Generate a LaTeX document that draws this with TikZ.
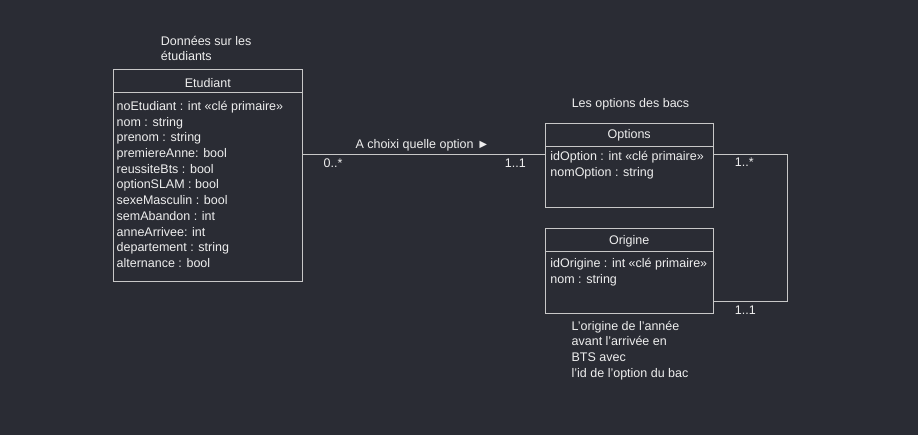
\documentclass[tikz,border=0pt]{standalone}
\usepackage{fontspec}
\setmainfont{Liberation Sans}
\usepackage{xcolor}
\usepackage{tikz}
\usetikzlibrary{positioning}

\definecolor{fondsombre}{RGB}{42,44,52}
\definecolor{traitgris}{RGB}{200,200,200}
\definecolor{texteclair}{RGB}{238,238,238}

\tikzset{
  every node/.style={text=texteclair,font=\fontsize{12.5}{15.7}\selectfont,inner sep=0.75pt},
  classe/.style={draw=traitgris,line width=1,rectangle,inner sep=0pt,anchor=north west},
  trait/.style={draw=traitgris,line width=1}
}

\begin{document}
\begin{tikzpicture}[x=1pt,y=1pt,yscale=-1,xscale=1]
%set diagram left start at 0, and has height of 435
\fill[fondsombre] (0,0) rectangle (918,435);
\useasboundingbox (0,0) rectangle (918,435);

%Shape: Rectangle [Etudiant]
\node (etud) [classe,minimum width=189pt,minimum height=211.7pt] at (113.3,69.3) {};
%Shape: Rectangle [Options]
\node (opt) [classe,minimum width=168.3pt,minimum height=84pt] at (545,122.7) {};
%Shape: Rectangle [Origine]
\node (ori) [classe,minimum width=168.3pt,minimum height=85pt] at (545,227.7) {};

\coordinate (etudSep) at (0,92.7);
\coordinate (optSep) at (0,146.7);
\coordinate (oriSep) at (0,251.7);
\coordinate (assoc) at (0,155);
\coordinate (optLink) at (0,154.4);
\coordinate (oriLink) at (787.3,301.5);

%Straight Lines [separators]
\draw [trait] (etud.west |- etudSep) -- (etud.east |- etudSep) ;
\draw [trait] (opt.west |- optSep) -- (opt.east |- optSep) ;
\draw [trait] (ori.west |- oriSep) -- (ori.east |- oriSep) ;
%Straight Lines [association]
\draw [trait] (etud.east |- assoc) -- (opt.west |- assoc) ;
%Straight Lines [Options - Origine]
\draw [trait] (opt.east |- optLink) -| (oriLink) -- (ori.east |- oriLink) ;

% Text Node
\draw (160,35) node (titreEtud) [anchor=north west] [align=left] {\fontsize{12.5}{16.6}\selectfont Données sur les\\étudiants};
% Text Node
\draw (207.8,83.3) node (nomEtud) [align=center] {Etudiant};
% Text Node
\draw (115.7,100.3) node (attrEtud) [anchor=north west] [align=left] {noEtudiant : int «clé primaire»\\nom : string\\prenom : string\\premiereAnne: bool\\reussiteBts : bool\\optionSLAM : bool\\sexeMasculin : bool\\semAbandon : int\\anneArrivee: int\\departement : string\\alternance : bool};
% Text Node
\draw (630.5,104) node (titreOpt) [align=center] {Les options des bacs};
% Text Node
\draw (629.2,135) node (nomOpt) [align=center] {Options};
% Text Node
\draw (549.5,150.7) node (attrOpt) [anchor=north west] [align=left] {\fontsize{12.5}{15}\selectfont idOption : int «clé primaire»\\nomOption : string};
% Text Node
\draw (629.2,241) node (nomOri) [align=center] {Origine};
% Text Node
\draw (549.5,257.3) node (attrOri) [anchor=north west] [align=left] {idOrigine : int «clé primaire»\\nom : string};
% Text Node
\draw (570.7,320) node (noteOri) [anchor=north west] [align=left] {\fontsize{12.5}{15.9}\selectfont L'origine de l'année\\avant l'arrivée en\\BTS avec\\l'id de l'option du bac};
% Text Node
\draw (422.5,145) node (assocLabel) [align=center] {A choixi quelle option ►};
% Text Node
\draw (322.7,163.3) node (mulEtud) [anchor=west] {0..*};
% Text Node
\draw (504,163.3) node (mulOpt) [anchor=west] {1..1};
% Text Node
\draw (734,162.7) node (mulOptR) [anchor=west] {1..*};
% Text Node
\draw (734,310.7) node (mulOri) [anchor=west] {1..1};

\end{tikzpicture}
\end{document}
